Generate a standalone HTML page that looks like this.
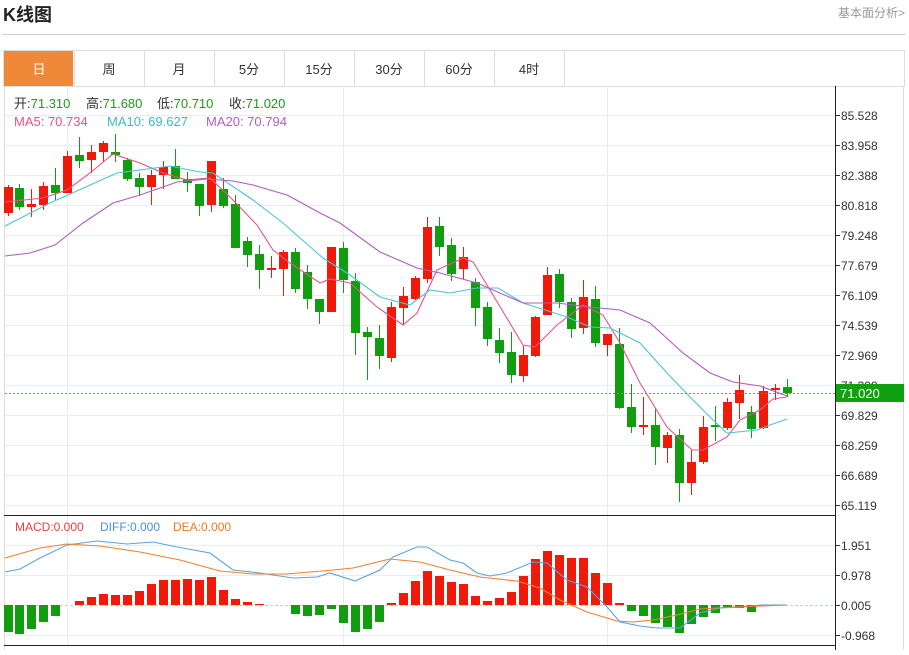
<!DOCTYPE html>
<html><head><meta charset="utf-8"><style>
body{margin:0;background:#fff;width:909px;height:650px;overflow:hidden;font-family:"Liberation Sans","Noto Sans CJK SC",sans-serif}
svg text{font-family:"Liberation Sans","Noto Sans CJK SC",sans-serif}
</style></head><body>
<svg id="s" width="909" height="650" xmlns="http://www.w3.org/2000/svg">
<text x="3" y="21" font-size="18" font-weight="bold" fill="#222">K线图</text>
<text x="905" y="17" font-size="12" fill="#999" text-anchor="end">基本面分析&gt;</text>
<line x1="2" y1="34.5" x2="905" y2="34.5" stroke="#ccc"/>
<rect x="3.5" y="50.5" width="901" height="36" fill="#fff" stroke="#ddd"/>
<rect x="4" y="51" width="69" height="35" fill="#f0883a"/>
<g id="tabs" font-size="13" fill="#333" text-anchor="middle"></g>
<g id="g"></g>
</svg>
<script>
const S='http://www.w3.org/2000/svg',g=document.getElementById('g'),tabs=document.getElementById('tabs');
function el(p,t,a,txt){const e=document.createElementNS(S,t);for(const k in a)e.setAttribute(k,a[k]);if(txt!=null)e.textContent=txt;p.appendChild(e);return e;}
const tn=['日','周','月','5分','15分','30分','60分','4时'];
tn.forEach((t,i)=>{const x=4+i*70;el(tabs,'text',{x:x+35,y:74,fill:i==0?'#fff':'#333'},t);if(i>0)el(g,'line',{x1:x+0.5,y1:51,x2:x+0.5,y2:86,stroke:'#ddd'});});
el(g,'line',{x1:564.5,y1:51,x2:564.5,y2:86,stroke:'#ddd'});
el(g,'line',{x1:4.5,y1:86,x2:4.5,y2:650,stroke:'#ddd'});
el(g,'line',{x1:903.5,y1:86,x2:903.5,y2:650,stroke:'#ddd'});
const ticks=['85.528','83.958','82.388','80.818','79.248','77.679','76.109','74.539','72.969','71.399','69.829','68.259','66.689','65.119'];
ticks.forEach((t,i)=>{const y=115+i*30+0.5;el(g,'line',{x1:5,y1:y,x2:835,y2:y,stroke:'#e6edf3'});el(g,'line',{x1:835,y1:y,x2:840,y2:y,stroke:'#333'});el(g,'text',{x:841,y:y+4.5,'font-size':12,fill:'#333'},t);});
[545,575,605,635].forEach((y,i)=>{y+=0.5;if(i!=2)el(g,'line',{x1:5,y1:y,x2:835,y2:y,stroke:'#e6edf3'});el(g,'line',{x1:835,y1:y,x2:840,y2:y,stroke:'#333'});el(g,'text',{x:841,y:y+4.5,'font-size':12,fill:'#333'},['1.951','0.978','0.005','-0.968'][i]);});
el(g,'line',{x1:5,y1:605.5,x2:835,y2:605.5,stroke:'#b8d0e8','stroke-dasharray':'3,2'});
[67.5,343.5,607.5].forEach(x=>el(g,'line',{x1:x,y1:86,x2:x,y2:646,stroke:'#e6edf3'}));
el(g,'line',{x1:4,y1:515.5,x2:835,y2:515.5,stroke:'#222'});
el(g,'line',{x1:4,y1:645.5,x2:835,y2:645.5,stroke:'#222'});
el(g,'line',{x1:835.5,y1:86,x2:835.5,y2:650,stroke:'#222'});
const C=[[8,1,187,213,185,216],[19,0,188,207,184,210],[31,1,204,207,189,217],[43,1,186,205,182,210],[55,0,185,193,168,200],[67,1,156,193,151,193],[79,0,155,161,137,168],[91,1,152,160,145,173],[103,1,143,152,141,162],[115,0,152,155,134,162],[127,0,160,179,158,181],[139,0,178,187,173,196],[151,1,175,187,170,205],[163,1,167,175,161,189],[175,0,166,179,149,179],[187,0,179,183,172,192],[199,0,184,206,184,216],[211,1,161,205,161,212],[223,0,189,206,178,208],[235,0,204,248,195,248],[247,0,241,255,237,267],[259,0,254,270,245,289],[271,1,268,270,256,278],[283,1,252,269,250,296],[295,0,252,289,248,293],[307,0,272,299,265,309],[319,0,299,312,299,324],[331,1,247,312,247,312],[343,0,248,280,242,293],[355,0,281,333,273,355],[367,0,332,337,327,380],[379,0,338,356,325,369],[391,1,307,358,302,362],[403,1,296,308,287,325],[415,1,278,299,276,300],[427,1,227,279,217,283],[439,0,226,247,217,256],[451,0,245,274,238,281],[463,1,257,269,247,279],[475,0,282,308,278,326],[487,0,307,339,302,346],[499,0,340,353,328,363],[511,0,352,375,332,383],[523,1,355,376,346,382],[535,1,317,356,316,357],[547,1,275,315,267,315],[559,0,274,302,269,308],[571,0,302,329,298,338],[583,1,297,328,280,334],[595,0,299,343,286,347],[607,1,334,345,334,356],[619,0,344,408,328,409],[631,0,407,427,384,433],[643,1,425,427,397,435],[655,0,425,447,408,465],[667,1,435,448,432,463],[679,0,435,483,429,502],[691,1,462,483,450,495],[703,1,427,462,416,464],[715,0,425,427,406,441],[727,1,402,428,398,430],[739,1,390,403,375,419],[751,0,412,429,406,438],[763,1,391,428,386,429],[775,1,388,390,384,400],[787,0,387,393,379,397]];
C.forEach(c=>{const col=c[1]?'#f01a0a':'#109e10';el(g,'line',{x1:c[0]+0.5,y1:c[4],x2:c[0]+0.5,y2:c[5],stroke:col});el(g,'rect',{x:c[0]-4,y:c[2],width:9,height:Math.max(1.5,c[3]-c[2]),fill:col});});
function pl(pts,col,w){el(g,'polyline',{points:pts,fill:'none',stroke:col,'stroke-width':w||1.1});}
pl('5,202 43,198 67,190 90,173 113,154 140,163 163,173 187,180 210,178 233,200 257,225 273,250 290,263 320,283 330,279 350,283 377,307 403,325 417,313 437,270 463,258 473,262 490,290 523,345 535,347 557,325 583,305 603,315 620,343 640,383 667,427 692,450 703,450 727,437 740,420 760,410 773,399 787,397','#e8538a');
pl('5,226 50,203 117,173 170,166 200,172 213,173 253,200 283,223 300,238 323,258 350,275 380,297 410,305 430,290 450,293 477,288 498,288 523,303 567,317 590,327 610,328 620,333 640,343 667,373 693,400 713,420 727,433 757,430 770,425 787,419','#4fc3d3');
pl('5,256 30,253 55,245 83,223 113,203 140,195 177,182 207,179 233,181 253,185 287,195 300,202 320,213 340,223 380,252 417,268 440,273 477,283 523,303 557,303 590,307 620,310 650,323 683,353 710,373 733,382 760,386 787,396','#b05cc2');
el(g,'line',{x1:5,y1:393.5,x2:835,y2:393.5,stroke:'#3cc03c','stroke-dasharray':'2,2'});
el(g,'rect',{x:836,y:384,width:68,height:18,fill:'#10a010'});
el(g,'text',{x:840,y:398,'font-size':13,fill:'#fff'},'71.020');
const H=[[8,632],[19,634],[31,629],[43,622],[55,616],[79,601],[91,597],[103,594],[115,595],[127,595],[139,591],[151,584],[163,580],[175,580],[187,579],[199,580],[211,577],[223,590],[235,599],[247,602],[259,604],[295,614],[307,616],[319,615],[331,609],[343,623],[355,632],[367,629],[379,622],[391,603],[403,593],[415,581],[427,571],[439,576],[451,582],[463,584],[475,596],[487,601],[499,598],[511,592],[523,576],[535,559],[547,551],[559,555],[571,558],[583,558],[595,573],[607,583],[619,603],[631,611],[643,616],[655,623],[667,627],[679,633],[691,624],[703,617],[715,613],[727,608],[739,608],[751,612]];
H.forEach(h=>{const z=605;const red=h[1]<z;el(g,'rect',{x:h[0]-4,y:Math.min(z,h[1]),width:9,height:Math.abs(h[1]-z),fill:red?'#f01a0a':'#109e10'});});
pl('5,572 20,569 40,558 67,545 97,541 127,544 153,542 177,547 210,553 233,570 260,573 293,578 317,577 330,573 355,581 380,570 393,557 417,547 427,547 450,560 463,563 477,573 490,576 507,573 533,562 547,563 567,580 587,587 607,607 620,622 640,626 657,628 680,628 700,613 720,608 743,607 760,605 787,605','#5ba3e0');
pl('5,558 40,548 67,544 100,546 140,552 180,560 220,571 253,574 287,574 333,570 353,568 390,559 420,562 450,570 480,577 517,581 540,588 560,600 587,612 617,621 633,622 653,620 677,615 700,609 733,607 787,605','#f08030');
const L=(x,y,parts)=>{const t=el(g,'text',{x:x,y:y,'font-size':13});parts.forEach(p=>el(t,'tspan',{fill:p[1]},p[0]));};
L(14,108,[['开:','#333'],['71.310','#1a9e1a']]);
L(86,108,[['高:','#333'],['71.680','#1a9e1a']]);
L(157,108,[['低:','#333'],['70.710','#1a9e1a']]);
L(229,108,[['收:','#333'],['71.020','#1a9e1a']]);
el(g,'text',{x:14,y:126,'font-size':13,fill:'#e8538a'},'MA5: 70.734');
el(g,'text',{x:107,y:126,'font-size':13,fill:'#3cb9d0'},'MA10: 69.627');
el(g,'text',{x:206,y:126,'font-size':13,fill:'#b25fc4'},'MA20: 70.794');
el(g,'text',{x:15,y:531,'font-size':12,fill:'#e84040'},'MACD:0.000');
el(g,'text',{x:100,y:531,'font-size':12,fill:'#4a90d8'},'DIFF:0.000');
el(g,'text',{x:173,y:531,'font-size':12,fill:'#f07a20'},'DEA:0.000');
</script>
</body></html>
